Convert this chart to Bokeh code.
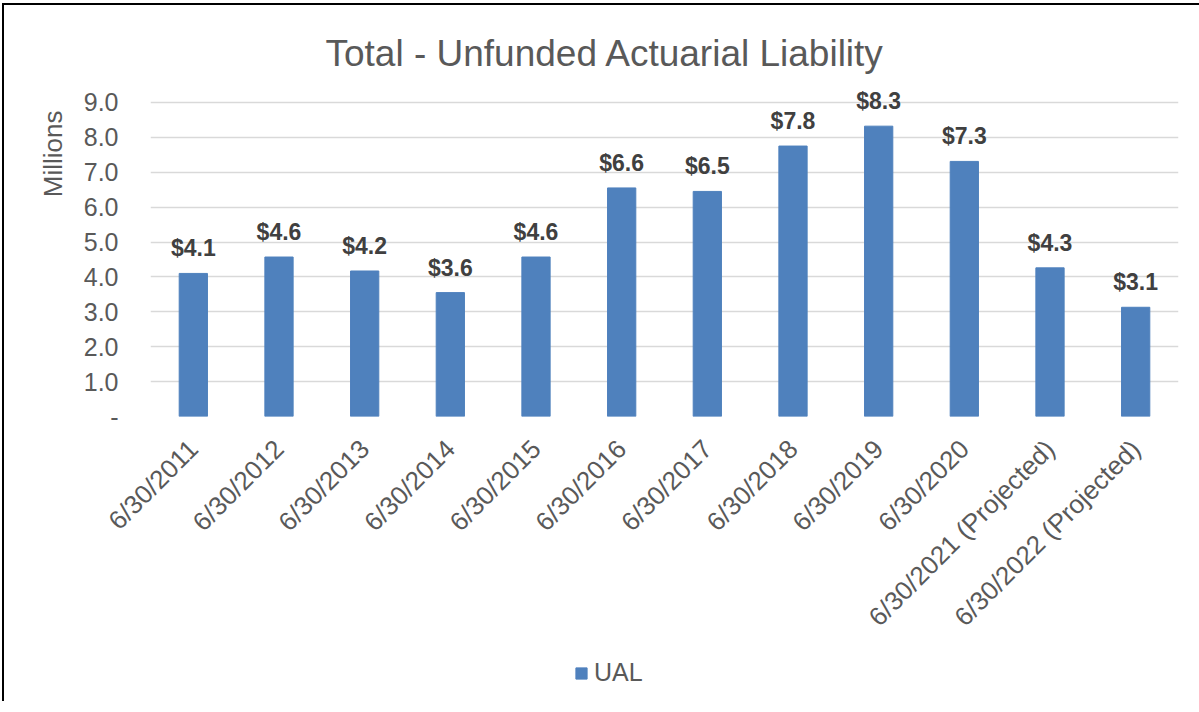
import math
from bokeh.plotting import figure
from bokeh.layouts import column
from bokeh.models import (FactorRange, FixedTicker, CustomJSTickFormatter, ColumnDataSource,
                          Legend, LegendItem, Title, Range1d)
from bokeh.core.properties import value
from bokeh.embed import file_html
from bokeh.resources import INLINE

categories = ["6/30/2011", "6/30/2012", "6/30/2013", "6/30/2014", "6/30/2015", "6/30/2016",
              "6/30/2017", "6/30/2018", "6/30/2019", "6/30/2020",
              "6/30/2021 (Projected)", "6/30/2022 (Projected)"]
ual = [4.10, 4.57, 4.17, 3.55, 4.57, 6.55, 6.45, 7.75, 8.32, 7.31, 4.26, 3.13]
labels = ["$4.1", "$4.6", "$4.2", "$3.6", "$4.6", "$6.6", "$6.5", "$7.8", "$8.3", "$7.3", "$4.3", "$3.1"]
y_ticks = [0, 1, 2, 3, 4, 5, 6, 7, 8, 9]
series_name = "UAL"

FONT = "Liberation Sans"
GREY = "#595959"
BAR = "#4F81BD"

src = ColumnDataSource(dict(cat=categories, ual=ual, lab=labels))

W = 1195
p = figure(width=W, height=648, output_backend="svg", toolbar_location=None,
           x_range=FactorRange(factors=categories, range_padding=0),
           y_range=(0, 9.6),
           min_border_left=146, min_border_right=21, min_border_top=76, min_border_bottom=237)
p.outline_line_color = None
p.background_fill_color = "white"
p.border_fill_color = "white"

p.title.text = "Total - Unfunded Actuarial Liability"
p.title.align = "left"
p.title.offset = 175
p.title.text_font = FONT
p.title.text_font_size = "37px"
p.title.text_font_style = "normal"
p.title.text_color = GREY
p.title.standoff = 16

r = p.vbar(x="cat", top="ual", width=0.33, source=src, fill_color=BAR, line_color=BAR)

p.text(x="cat", y="ual", text="lab", source=src, y_offset=-25,
       text_align="center", text_baseline="alphabetic",
       text_font=value(FONT), text_font_size="23px", text_font_style="bold",
       text_color="#404040")

p.xgrid.grid_line_color = None
p.ygrid.grid_line_color = "#D9D9D9"
p.ygrid.grid_line_width = 1.5

p.yaxis.ticker = FixedTicker(ticks=y_ticks)
p.yaxis.formatter = CustomJSTickFormatter(code="return tick == 0 ? '-' : tick.toFixed(1);")
p.yaxis.axis_line_color = None
p.yaxis.major_tick_line_color = None
p.yaxis.minor_tick_line_color = None
p.yaxis.major_label_standoff = 26
p.yaxis.major_label_text_font = FONT
p.yaxis.major_label_text_font_size = "25px"
p.yaxis.major_label_text_color = GREY

p.xaxis.axis_line_color = None
p.xaxis.major_tick_line_color = None
p.xaxis.minor_tick_line_color = None
p.xaxis.major_label_orientation = math.pi / 4
p.xaxis.major_label_standoff = 22
p.xaxis.major_label_text_font = FONT
p.xaxis.major_label_text_font_size = "26px"
p.xaxis.major_label_text_color = GREY

ylab = Title(text="Millions", align="right", offset=29, text_font=FONT,
             text_font_size="26px", text_font_style="normal", text_color=GREY, standoff=26)
p.add_layout(ylab, "left")

# legend strip below the chart (its bars fall far outside the visible range)
p2 = figure(width=W, height=48, output_backend="svg", toolbar_location=None,
            x_range=FactorRange(factors=categories), y_range=Range1d(100, 101),
            x_axis_type=None, y_axis_type=None, min_border=0)
p2.outline_line_color = None
p2.xgrid.grid_line_color = None
p2.ygrid.grid_line_color = None
r2 = p2.vbar(x="cat", top="ual", source=src, width=0.33, fill_color=BAR, line_color=BAR)
legend = Legend(items=[LegendItem(label=series_name, renderers=[r2])], location=(424, 14),
                orientation="horizontal", padding=0, margin=0, spacing=0,
                glyph_width=14, glyph_height=14, label_standoff=6,
                label_text_font=FONT, label_text_font_size="25px", label_text_color=GREY,
                border_line_color=None, background_fill_alpha=0)
p2.add_layout(legend, "center")

layout = column(p, p2, spacing=0)
layout.styles = {"border-top": "2px solid #000000", "border-left": "2px solid #000000",
                 "margin-left": "2px", "margin-top": "3px"}

open("out.html", "w").write(file_html(layout, INLINE))
